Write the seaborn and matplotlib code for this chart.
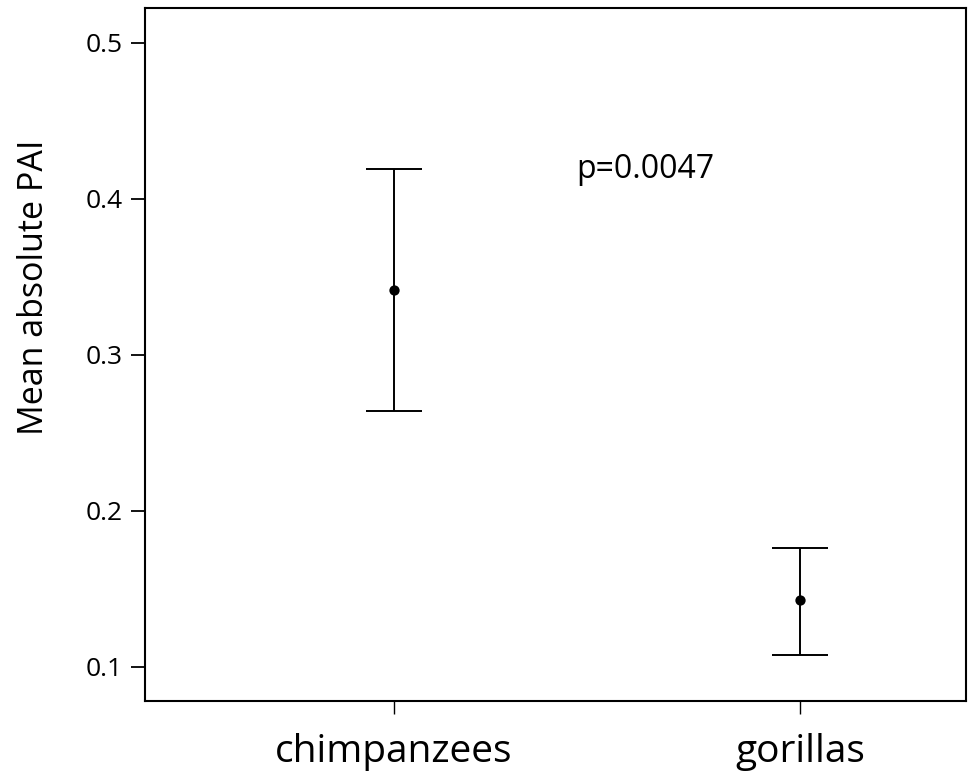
import matplotlib
matplotlib.use("Agg")
import matplotlib.pyplot as plt
import seaborn as sns
import numpy as np

# values
groups = ["chimpanzees", "gorillas"]
means = np.array([0.3414, 0.143])
ci_low = np.array([0.2644, 0.1077])
ci_high = np.array([0.419, 0.1764])
p_label = "p=0.0047"

sns.set_theme(style="white")
plt.rcParams["font.family"] = ["Open Sans", "DejaVu Sans"]
plt.rcParams["text.color"] = "black"
plt.rcParams["axes.labelcolor"] = "black"
plt.rcParams["xtick.color"] = "black"
plt.rcParams["ytick.color"] = "black"

fig = plt.figure(figsize=(9.68, 7.74), dpi=100)
ax = fig.add_axes([0.1498, 0.0943, 0.8482, 0.8954])

yerr = np.vstack([means - ci_low, ci_high - means])
ax.errorbar(groups, means, yerr=yerr, fmt="none", ecolor="black",
            elinewidth=1.4, capsize=20, capthick=1.4, zorder=2)
sns.scatterplot(x=groups, y=means, color="black", s=55, edgecolor="black",
                linewidth=0, zorder=3, ax=ax)

ax.set_xlim(-0.613, 1.409)
ax.set_ylim(0.0782, 0.5224)
ax.set_yticks([0.1, 0.2, 0.3, 0.4, 0.5])
ax.set_yticklabels(["0.1", "0.2", "0.3", "0.4", "0.5"])

ax.text(0.45, 0.419, p_label, fontsize=23, ha="left", va="center")

ax.set_ylabel("Mean absolute PAI", fontsize=24.5)
ax.yaxis.set_label_coords(-0.115, 0.597)
ax.set_xlabel("")
ax.tick_params(axis="y", which="major", direction="out", length=10, width=1.3,
               labelsize=19, pad=6, left=True)
ax.tick_params(axis="x", which="major", direction="out", length=9, width=1.0,
               labelsize=28, pad=14, bottom=True)

for s in ax.spines.values():
    s.set_color("black")
    s.set_linewidth(1.5)

fig.savefig("out.png", dpi=100)
